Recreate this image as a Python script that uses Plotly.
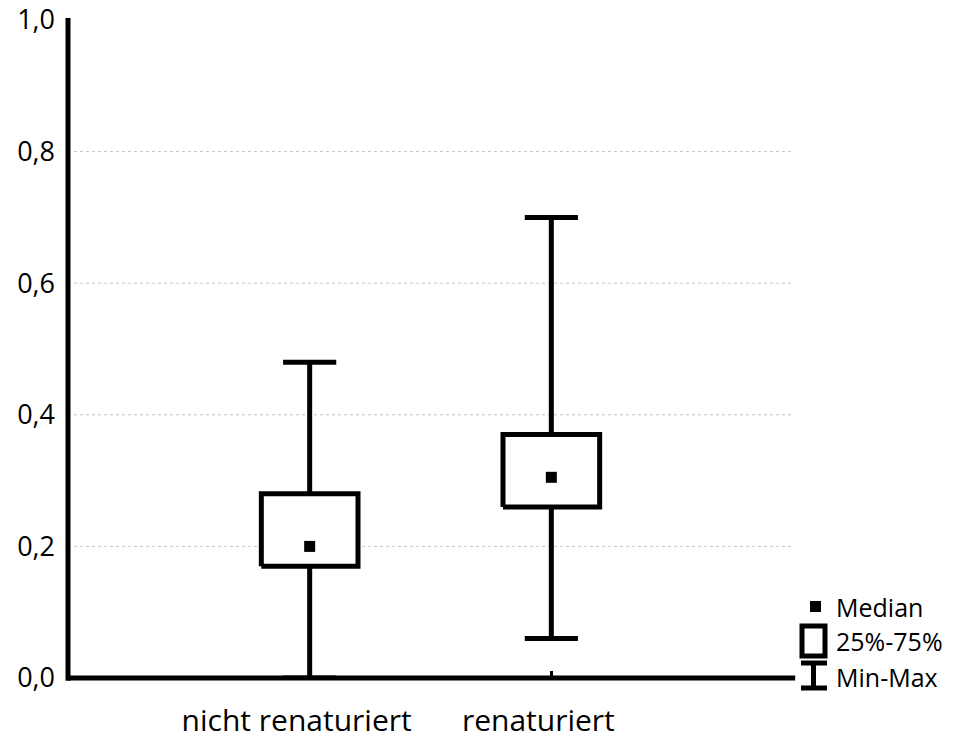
import plotly.graph_objects as go

# Summary statistics per group
categories = ["nicht renaturiert", "renaturiert"]
minimum = [0.00, 0.06]
q1 = [0.17, 0.26]
median = [0.20, 0.305]
q3 = [0.28, 0.37]
maximum = [0.48, 0.70]

y_tick_values = [0.0, 0.2, 0.4, 0.6, 0.8, 1.0]
y_tick_labels = ["0,0", "0,2", "0,4", "0,6", "0,8", "1,0"]
grid_values = [0.2, 0.4, 0.6, 0.8]
legend_labels = ["Median", "25%-75%", "Min-Max"]

W, H = 969, 739
M_L, M_R, M_T, M_B = 68, 176, 20, 61
PW, PH = W - M_L - M_R, H - M_T - M_B
FONT = "Open Sans"

BOX_HALF = 0.2
CAP_HALF = 0.11
LW = 5

positions = list(range(1, len(categories) + 1))

fig = go.Figure()

for i, x in enumerate(positions):
    # whisker stem
    fig.add_trace(go.Scatter(
        x=[x, x], y=[minimum[i], maximum[i]], mode="lines",
        line=dict(color="black", width=LW), hoverinfo="skip", showlegend=False))
    # whisker caps
    for v in (minimum[i], maximum[i]):
        fig.add_trace(go.Scatter(
            x=[x - CAP_HALF, x + CAP_HALF], y=[v, v], mode="lines",
            line=dict(color="black", width=LW), hoverinfo="skip", showlegend=False))
    # interquartile box
    fig.add_trace(go.Scatter(
        x=[x - BOX_HALF, x + BOX_HALF, x + BOX_HALF, x - BOX_HALF, x - BOX_HALF],
        y=[q1[i], q1[i], q3[i], q3[i], q1[i]],
        mode="lines", fill="toself", fillcolor="white",
        line=dict(color="black", width=LW), hoverinfo="skip", showlegend=False))

# median markers
fig.add_trace(go.Scatter(
    x=positions, y=median, mode="markers",
    marker=dict(symbol="square", size=11, color="black", line=dict(width=0)),
    hoverinfo="skip", showlegend=False))

shapes = []
for g in grid_values:
    shapes.append(dict(type="line", xref="paper", yref="y", x0=0, x1=1, y0=g, y1=g,
                       line=dict(color="#c4c4c4", width=1, dash="dot"), layer="below"))

# axis lines, centred on the zero values
shapes.append(dict(type="line", xref="paper", yref="paper", x0=0, x1=0, y0=-0.004, y1=1.003,
                   line=dict(color="black", width=LW), layer="above"))
shapes.append(dict(type="line", xref="paper", yref="paper", x0=0, x1=1.003, y0=0, y1=0,
                   line=dict(color="black", width=LW), layer="above"))


def px(xp):
    return (xp - M_L) / PW


def py(yp):
    return (M_T + PH - yp) / PH


# key symbols to the right of the plot
shapes.append(dict(type="rect", xref="paper", yref="paper",
                   x0=px(810), x1=px(821), y0=py(612), y1=py(601),
                   fillcolor="black", line=dict(width=0)))
shapes.append(dict(type="rect", xref="paper", yref="paper",
                   x0=px(802), x1=px(825), y0=py(656), y1=py(626),
                   fillcolor="white", line=dict(color="black", width=5)))
shapes.append(dict(type="line", xref="paper", yref="paper",
                   x0=px(813.5), x1=px(813.5), y0=py(663), y1=py(688),
                   line=dict(color="black", width=5)))
for yy in (663, 688):
    shapes.append(dict(type="line", xref="paper", yref="paper",
                       x0=px(801), x1=px(827), y0=py(yy), y1=py(yy),
                       line=dict(color="black", width=5)))

annotations = []
for label, yy in zip(legend_labels, (607, 641, 677)):
    annotations.append(dict(text=label, xref="paper", yref="paper",
                            x=px(834), y=py(yy), xanchor="left", yanchor="middle",
                            showarrow=False, font=dict(family=FONT, size=25, color="black")))

fig.update_layout(
    width=W, height=H,
    margin=dict(l=M_L, r=M_R, t=M_T, b=M_B),
    paper_bgcolor="white", plot_bgcolor="white",
    shapes=shapes, annotations=annotations,
    xaxis=dict(range=[0, 3], tickvals=positions, ticktext=categories, automargin=False,
               showgrid=False, zeroline=False, showline=False,
               ticks="inside", ticklen=7, tickwidth=3, tickcolor="black",
               ticklabelshift=-13, ticklabelstandoff=22,
               tickfont=dict(family=FONT, size=30, color="black")),
    yaxis=dict(range=[0, 1], tickvals=y_tick_values, ticktext=y_tick_labels, automargin=False,
               showgrid=False, zeroline=False, showline=False,
               ticks="", ticklabelstandoff=12,
               tickfont=dict(family=FONT, size=27, color="black")),
)

fig.write_html("out.html")
